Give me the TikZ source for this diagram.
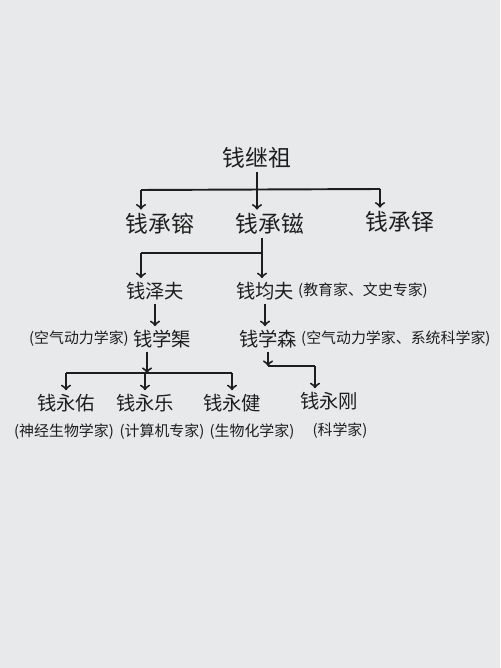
\documentclass[tikz,border=0pt]{standalone}
\usepackage{fontspec}
\usepackage{tikz}
\newfontfamily\cjk{Noto Sans CJK SC}
\definecolor{paper}{HTML}{E8E9EB}
\definecolor{ink}{HTML}{1E1E1E}

\begin{document}
\begin{tikzpicture}[x=0.02cm, y=-0.02cm,
    elder/.style={font=\cjk\fontsize{13}{15}\selectfont, text=ink, inner sep=2pt},
    person/.style={font=\cjk\fontsize{11}{13}\selectfont, text=ink, inner sep=2pt},
    note/.style={font=\cjk\fontsize{8.5}{10}\selectfont, text=ink, inner sep=0pt},
    line/.style={draw=ink, line width=1.1pt},
    arr/.style={line, ->}]

    % Paper
    \useasboundingbox (0,0) rectangle (500,668);
    \fill[paper] (0,0) rectangle (500,668);

    % Nodes
    \node[elder] (jizu) at (257,158) {钱继祖};

    \node[elder] (chengrong) at (160,224) {钱承镕};
    \node[elder] (chengzi) at (270,224) {钱承镃};
    \node[elder] (chengduo) at (400,222) {钱承铎};

    \node[person] (zefu) at (155,291) {钱泽夫};
    \node[person] (junfu) at (265,291) {钱均夫};
    \node[note, anchor=west] (junfunote) at (junfu.east) {(教育家、文史专家)};

    \node[person] (xuequ) at (162,339) {钱学榘};
    \node[note, anchor=east] (xuequnote) at (xuequ.west) {(空气动力学家)};
    \node[person] (xuesen) at (268,339) {钱学森};
    \node[note, anchor=west] (xuesennote) at (xuesen.east) {(空气动力学家、系统科学家)};

    \node[person] (yongyou) at (66,403) {钱永佑};
    \node[person] (yongle) at (145,403) {钱永乐};
    \node[person] (yongjian) at (232,403) {钱永健};
    \node[person] (yonggang) at (329,401) {钱永刚};

    % Additional labels
    \node[note] (yongyounote) at (64,432) {(神经生物学家)};
    \node[note] (yonglenote) at (162,432) {(计算机专家)};
    \node[note] (yongjiannote) at (252,432) {(生物化学家)};
    \node[note] (yonggangnote) at (340,431) {(科学家)};

    % Branch points
    \coordinate (bar1l) at (141,190);
    \coordinate (bar1r) at (380,189);
    \coordinate (bar2l) at (141,253);
    \coordinate (bar2r) at (262,253);
    \coordinate (bar3) at (147,373);
    \coordinate (bar4) at (315,366);

    % Edges
    \draw[line] (bar1l) -- (bar1r);
    \draw[arr] (jizu) -- (jizu |- chengzi.north);
    \draw[arr] (bar1l) -- (bar1l |- chengrong.north);
    \draw[arr] (bar1r) -- (bar1r |- chengduo.north);

    \draw[line] (bar2l) -- (bar2r);
    \draw[arr] (bar2r |- chengzi.south) -- (bar2r |- junfu.north);
    \draw[arr] (bar2l) -- (bar2l |- zefu.north);

    \draw[arr] (zefu) -- (zefu |- xuequ.north);
    \draw[arr] (junfu) -- (junfu |- xuesen.north);

    \draw[arr] (xuequ.south -| bar3) -- (bar3);
    \draw[line] (yongyou |- bar3) -- (yongjian |- bar3);
    \draw[arr] (yongyou |- bar3) -- (yongyou.north);
    \draw[arr] (yongle |- bar3) -- (yongle.north);
    \draw[arr] (yongjian |- bar3) -- (yongjian.north);

    \draw[arr] (xuesen) -- (xuesen |- bar4);
    \draw[line] (xuesen |- bar4) -- (bar4);
    \draw[arr] (bar4) -- (bar4 |- yonggang.north);
\end{tikzpicture}
\end{document}
